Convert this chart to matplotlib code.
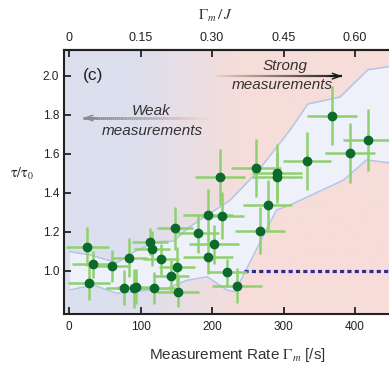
import numpy as np
import matplotlib.pyplot as plt
from matplotlib.collections import LineCollection
from matplotlib.colors import to_rgb

# data
rate = [25.6, 34, 28, 60.6, 84.3, 77.3, 91, 94, 112.8, 116, 118.9, 129, 147.8, 142.7,
        151.5, 152.4, 180.4, 194.9, 214, 203.3, 194.9, 220.5, 234.5, 210.8, 261, 291.4,
        291.4, 277.9, 267.6, 332.9, 393.5, 417.8, 368.3]
tau = [1.122, 1.032, 0.937, 1.023, 1.066, 0.912, 0.909, 0.917, 1.148, 1.112, 0.910, 1.057,
       1.216, 0.972, 1.02, 0.891, 1.19, 1.286, 1.281, 1.134, 1.071, 0.991, 0.922, 1.479,
       1.527, 1.498, 1.481, 1.336, 1.204, 1.562, 1.603, 1.669, 1.794]
rate_err = [30, 30, 30, 25, 25, 25, 25, 25, 25, 25, 30, 25, 25, 25, 25, 30, 30, 35, 30, 35,
            35, 28, 35, 35, 35, 35, 35, 34, 35, 34, 35, 35, 35]
tau_err = [0.10, 0.07, 0.09, 0.08, 0.10, 0.09, 0.10, 0.09, 0.07, 0.09, 0.08, 0.08, 0.11,
           0.08, 0.10, 0.08, 0.10, 0.13, 0.12, 0.10, 0.09, 0.07, 0.09, 0.145, 0.15, 0.15,
           0.12, 0.13, 0.12, 0.15, 0.155, 0.16, 0.15]

# theory band
band_x_up = [1, 29, 67, 95, 127, 146, 169, 225, 262, 309, 334, 379, 418, 474]
band_up = [1.097, 1.08, 1.04, 1.105, 1.15, 1.15, 1.225, 1.36, 1.50, 1.72, 1.854, 1.89, 2.03, 2.06]
band_x_lo = [1, 34, 67, 137, 165, 193, 221, 232, 290, 309, 384, 416, 474]
band_lo = [0.90, 0.926, 0.883, 0.909, 0.95, 0.968, 0.90, 0.891, 1.31, 1.336, 1.464, 1.567, 1.54]

zeno_x = [245, 474]
zeno_y = [1.0, 1.0]

xticks = [0, 100, 200, 300, 400]
top_labels = ["0", "0.15", "0.30", "0.45", "0.60"]
yticks = [1.0, 1.2, 1.4, 1.6, 1.8, 2.0]

plt.rcParams['font.family'] = ['Liberation Sans', 'DejaVu Sans']

fig = plt.figure(figsize=(3.89, 3.67), dpi=100)
ax = fig.add_axes([64 / 389, 53 / 367, 344 / 389, 264 / 367])
xlim = (-7, 474)
ylim = (0.777, 2.131)
ax.set_xlim(*xlim)
ax.set_ylim(*ylim)

# background gradient blue -> pink
left_c = np.array(to_rgb("#dcdfee"))
right_c = np.array(to_rgb("#f7ddd9"))
gx = np.linspace(xlim[0], xlim[1], 300)
t = np.clip((gx - 90) / (250 - 90), 0, 1)
grad = left_c[None, :] * (1 - t[:, None]) + right_c[None, :] * t[:, None]
ax.imshow(grad[None, :, :], extent=[xlim[0], xlim[1], ylim[0], ylim[1]],
          aspect='auto', zorder=0)

# band
xs = np.linspace(1, 474, 400)
up = np.interp(xs, band_x_up, band_up)
lo = np.interp(xs, band_x_lo, band_lo)
ax.fill_between(xs, lo, up, color="#eef1f9", lw=0, zorder=1)
ax.plot(band_x_up, band_up, color="#b3c6e8", lw=1.1, zorder=1.5)
ax.plot(band_x_lo, band_lo, color="#b3c6e8", lw=1.1, zorder=1.5)

# zeno limit
ax.plot(zeno_x, zeno_y, color="#2c2c92", lw=2.3, dashes=(1.3, 1.0),
        solid_capstyle='butt', dash_capstyle='butt', zorder=2)

ax.errorbar(rate, tau, xerr=rate_err, yerr=tau_err, fmt='o', color="#0b6a2c",
            ms=6, mec="#0b6a2c", ecolor="#8fd16f", elinewidth=1.8, capsize=0, zorder=3)


def grad_arrow(x0, x1, y, c0, c1, head_color, lw):
    n = 60
    px = np.linspace(x0, x1, n + 1)
    segs = [[(px[i], y), (px[i + 1], y)] for i in range(n)]
    a = np.array(to_rgb(c0))
    b = np.array(to_rgb(c1))
    cols = [a * (1 - s) + b * s for s in np.linspace(0, 1, n)]
    ax.add_collection(LineCollection(segs, colors=cols, linewidths=lw, zorder=2.5))
    ax.annotate("", xy=(x1, y), xytext=(x1 - (x1 - x0) * 0.1, y),
                arrowprops=dict(arrowstyle="->,head_length=0.55,head_width=0.2",
                                color=head_color, lw=1.1, shrinkA=0, shrinkB=0), zorder=2.5)


grad_arrow(194, 19.6, 1.782, "#f3d6d2", "#808086", "#8a8a90", 2.0)
grad_arrow(204, 382, 1.997, "#f1cfc8", "#1a1a1a", "#1a1a1a", 1.6)

ax.text(115, 1.818, "Weak", style='italic', fontsize=11, color="#333333",
        ha='center', va='center', zorder=4)
ax.text(116, 1.715, "measurements", style='italic', fontsize=11, color="#333333",
        ha='center', va='center', zorder=4)
ax.text(302, 2.049, "Strong", style='italic', fontsize=11, color="#333333",
        ha='center', va='center', zorder=4)
ax.text(298.6, 1.953, "measurements", style='italic', fontsize=11, color="#333333",
        ha='center', va='center', zorder=4)
ax.text(33, 2.0, "(c)", fontsize=12.5, color="#222222", ha='center', va='center', zorder=4)

ax.set_xticks(xticks)
ax.set_yticks(yticks)
ax.set_yticklabels(["%.1f" % v for v in yticks])
ax.tick_params(direction='in', length=5, width=1.3, labelsize=8.5, colors="#222222",
               pad=5)
ax.tick_params(axis='y', pad=3.5)
for s in ax.spines.values():
    s.set_linewidth(1.5)
    s.set_color("#222222")

top = ax.secondary_xaxis('top')
top.set_xticks(xticks)
top.set_xticklabels(top_labels)
top.tick_params(direction='in', length=5, width=1.3, labelsize=9, colors="#222222", pad=4)
top.spines['top'].set_linewidth(1.5)

fig.text(237 / 389, 1 - 355 / 367, r"Measurement Rate $\Gamma_m$ [/s]", fontsize=11,
         color="#333333", ha='center', va='center', math_fontfamily='stix')
fig.text(215 / 389, 1 - 16 / 367, r"$\Gamma_m\,/\,J$", fontsize=11, color="#333333",
         ha='center', va='center', math_fontfamily='stix')
fig.text(22 / 389, 1 - 174 / 367, r"$\mathrm{\tau/\tau_0}$", fontsize=10, color="#222222",
         ha='center', va='center', math_fontfamily='stix')

fig.savefig("out.png", dpi=100)
